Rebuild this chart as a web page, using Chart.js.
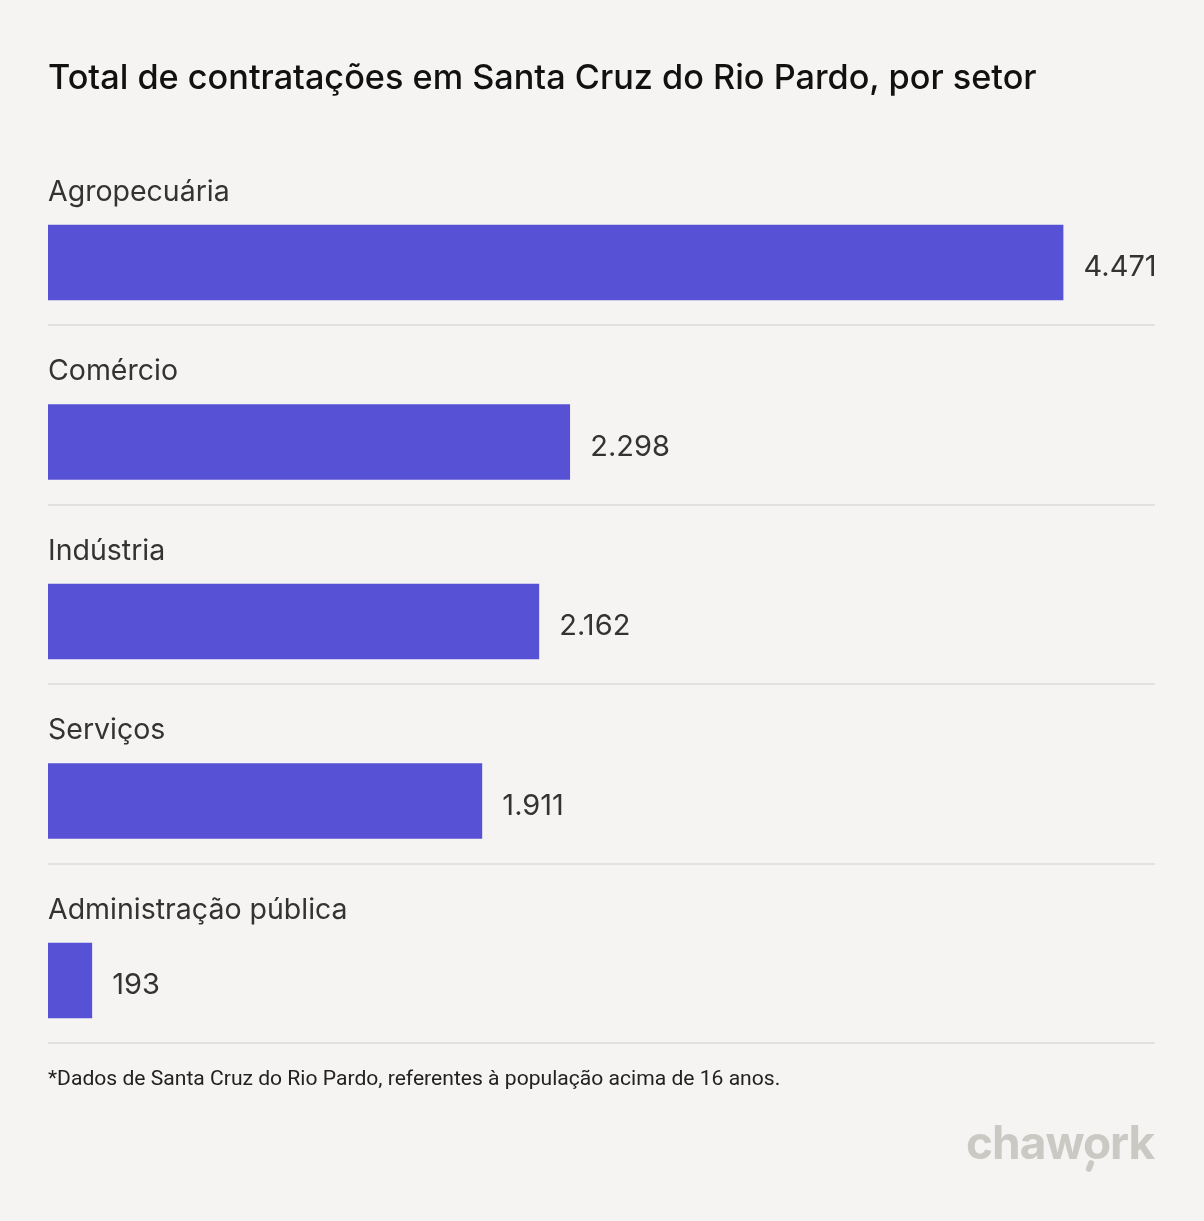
<!DOCTYPE html>
<html><head><meta charset="utf-8">
<script src="https://cdn.jsdelivr.net/npm/chart.js@4"></script>
<style>
html,body{margin:0;padding:0;background:#f5f4f2;}
#wrap{position:relative;width:1204px;height:1221px;}
canvas{position:absolute;left:0;top:0;}
.t{position:absolute;white-space:nowrap;}
#title{left:48px;top:56px;font:500 34.25px Inter, sans-serif;color:#111;}
#note{left:48px;top:1065px;font:400 21.1px Roboto, sans-serif;color:#222;}
#logo{left:966px;top:1114px;font:700 46px Inter, sans-serif;color:#cbc9c3;letter-spacing:-1px;}
#tick{position:absolute;left:1087px;top:1160px;width:6px;height:12px;background:#cbc9c3;border-radius:3px;transform:rotate(22deg);}
</style></head><body>
<div id="wrap">
<canvas id="c" width="1204" height="1221"></canvas>
<div class="t" id="title">Total de contratações em Santa Cruz do Rio Pardo, por setor</div>
<div class="t" id="note">*Dados de Santa Cruz do Rio Pardo, referentes à população acima de 16 anos.</div>
<div class="t" id="logo">chawork</div>
<div id="tick"></div>
</div>
<script>
const categories = ["Agropecuária","Comércio","Indústria","Serviços","Administração pública"];
const values = [4471, 2298, 2162, 1911, 193];
const valueLabels = ["4.471","2.298","2.162","1.911","193"];

const rowDeco = {
  id:'rowDeco',
  afterDatasetsDraw(chart){
    const ctx = chart.ctx;
    const meta = chart.getDatasetMeta(0);
    const area = chart.chartArea;
    ctx.save();
    meta.data.forEach((bar,i)=>{
      const y = bar.y;
      ctx.fillStyle = '#333';
      ctx.textBaseline = 'middle';
      ctx.textAlign = 'left';
      ctx.font = '400 28.5px Inter, sans-serif';
      ctx.fillText(categories[i], area.left, y - 70.5);
      ctx.font = '400 29px Inter, sans-serif';
      ctx.fillText(valueLabels[i], bar.x + 20.5, y + 5);
      ctx.fillStyle = '#e2e1de';
      ctx.fillRect(area.left, Math.round(y + 61.5), area.right - area.left, 2);
    });
    ctx.restore();
  }
};

new Chart(document.getElementById('c'), {
  type:'bar',
  data:{labels:categories, datasets:[{data:values, backgroundColor:'#5751d5', barThickness:75, borderWidth:0}]},
  options:{
    indexAxis:'y', responsive:false, animation:false,
    layout:{padding:{left:48,right:49,top:172.75,bottom:150.75}},
    scales:{
      x:{display:false,min:0,max:4876},
      y:{display:false}
    },
    plugins:{legend:{display:false},tooltip:{enabled:false},title:{display:false}}
  },
  plugins:[rowDeco]
});
</script>
</body></html>
